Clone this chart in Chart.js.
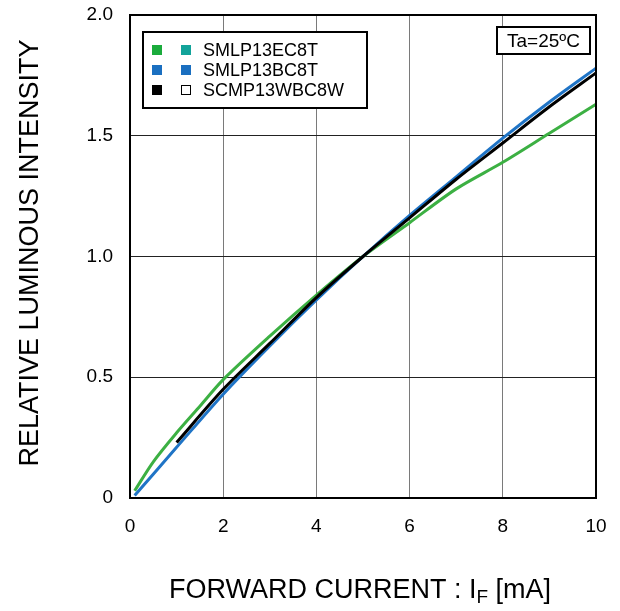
<!DOCTYPE html>
<html>
<head>
<meta charset="utf-8">
<script src="https://cdn.jsdelivr.net/npm/chart.js@4"></script>
<style>
  html, body { margin: 0; padding: 0; background: #fff; }
  #wrap { width: 620px; height: 611px; }
</style>
</head>
<body>
<div id="wrap"><canvas id="chart" width="620" height="611"></canvas></div>
<script>
// ==========================
// DATA
// ==========================
const currentGreen = [0.1, 0.5, 1, 1.5, 2, 3, 4, 5, 6, 7, 8, 9, 10];
const intensityGreen = [0.03, 0.15, 0.27, 0.38, 0.49, 0.67, 0.84, 1.0, 1.14, 1.28, 1.39, 1.51, 1.63];

const currentBlue = [0.1, 1, 2, 3, 4, 5, 6, 7, 8, 9, 10];
const intensityBlue = [0.01, 0.21, 0.43, 0.63, 0.82, 1.0, 1.17, 1.33, 1.49, 1.64, 1.78];

const currentBlack = [1, 2, 3, 4, 5, 6, 7, 8, 9, 10];
const intensityBlack = [0.23, 0.45, 0.64, 0.83, 1.0, 1.16, 1.32, 1.47, 1.62, 1.76];

const xTicks = [0, 2, 4, 6, 8, 10];
const yTicks = [0, 0.5, 1.0, 1.5, 2.0];

const legendRows = [
  { left: "#1aab3c", right: "#12a39a", label: "SMLP13EC8T" },
  { left: "#1a6fc0", right: "#1a6fc0", label: "SMLP13BC8T" },
  { left: "#000000", right: null, label: "SCMP13WBC8W" }
];

const FONT = "'Liberation Sans', Arial, sans-serif";

function toPoints(xs, ys) {
  return xs.map((x, i) => ({ x: x, y: ys[i] }));
}

// ==========================
// EXTRA DRAWING: frame, legend box, Ta box, axis titles
// ==========================
const decorPlugin = {
  id: "decor",
  afterDraw(chart) {
    const ctx = chart.ctx;
    const a = chart.chartArea;
    ctx.save();

    // plot frame
    ctx.strokeStyle = "#000";
    ctx.lineWidth = 2;
    ctx.strokeRect(a.left, a.top, a.right - a.left, a.bottom - a.top);

    // legend box
    ctx.fillStyle = "#fff";
    ctx.fillRect(143, 32, 224, 76);
    ctx.strokeRect(143, 32, 224, 76);
    ctx.font = "18px " + FONT;
    ctx.textBaseline = "middle";
    legendRows.forEach((row, i) => {
      const cy = 50 + i * 20;
      ctx.fillStyle = row.left;
      ctx.fillRect(152, cy - 5, 10, 10);
      if (row.right) {
        ctx.fillStyle = row.right;
        ctx.fillRect(181, cy - 5, 10, 10);
      } else {
        ctx.lineWidth = 1;
        ctx.strokeStyle = "#000";
        ctx.strokeRect(181.5, cy - 4.5, 9, 9);
      }
      ctx.fillStyle = "#000";
      ctx.fillText(row.label, 203, cy + 1);
    });

    // Ta box
    ctx.fillStyle = "#fff";
    ctx.fillRect(497, 27, 93, 27);
    ctx.lineWidth = 2;
    ctx.strokeStyle = "#000";
    ctx.strokeRect(497, 27, 93, 27);
    ctx.fillStyle = "#000";
    ctx.font = "19px " + FONT;
    ctx.textAlign = "center";
    ctx.fillText("Ta=25ºC", 543.5, 41.5);

    // y axis title
    ctx.save();
    ctx.translate(31, 253);
    ctx.rotate(-Math.PI / 2);
    ctx.font = "27px " + FONT;
    ctx.textAlign = "center";
    ctx.fillText("RELATIVE LUMINOUS INTENSITY", 0, 0);
    ctx.restore();

    // x axis title with subscript F
    const mainFont = "27px " + FONT;
    const subFont = "19px " + FONT;
    const p1 = "FORWARD CURRENT : I";
    const p2 = "F";
    const p3 = " [mA]";
    ctx.font = mainFont;
    const w1 = ctx.measureText(p1).width;
    const w3 = ctx.measureText(p3).width;
    ctx.font = subFont;
    const w2 = ctx.measureText(p2).width;
    let x = 360 - (w1 + w2 + w3) / 2;
    const y = 591;
    ctx.textAlign = "left";
    ctx.font = mainFont;
    ctx.fillText(p1, x, y);
    x += w1;
    ctx.font = subFont;
    ctx.fillText(p2, x, y + 7);
    x += w2;
    ctx.font = mainFont;
    ctx.fillText(p3, x, y);

    ctx.restore();
  }
};

function noOverflow(s) {
  s.paddingTop = 0;
  s.paddingBottom = 0;
  s.paddingLeft = 0;
  s.paddingRight = 0;
}

// ==========================
// CHART
// ==========================
new Chart(document.getElementById("chart"), {
  type: "scatter",
  data: {
    datasets: [
      {
        label: "SCMP13WBC8W",
        data: toPoints(currentBlack, intensityBlack),
        borderColor: "#000000",
        order: 0
      },
      {
        label: "SMLP13BC8T",
        data: toPoints(currentBlue, intensityBlue),
        borderColor: "#1f74c6",
        order: 1
      },
      {
        label: "SMLP13EC8T",
        data: toPoints(currentGreen, intensityGreen),
        borderColor: "#3cb043",
        order: 2
      }
    ].map(d => Object.assign(d, {
      showLine: true,
      borderWidth: 3,
      pointRadius: 0,
      tension: 0.3,
      fill: false
    }))
  },
  options: {
    responsive: false,
    animation: false,
    devicePixelRatio: 1,
    layout: { padding: { top: 15, right: 24, left: 0, bottom: 0 } },
    plugins: {
      legend: { display: false },
      tooltip: { enabled: false }
    },
    scales: {
      x: {
        type: "linear",
        min: 0,
        max: 10,
        afterBuildTicks: s => { s.ticks = xTicks.map(v => ({ value: v })); },
        afterFit: s => { s.height = 113; noOverflow(s); },
        grid: { color: "#7a7a7a", lineWidth: 1, drawTicks: false },
        border: { display: false },
        ticks: {
          padding: 17,
          color: "#000",
          font: { family: FONT, size: 19 },
          maxRotation: 0
        }
      },
      y: {
        type: "linear",
        min: 0,
        max: 2,
        afterBuildTicks: s => { s.ticks = yTicks.map(v => ({ value: v })); },
        afterFit: s => { s.width = 130; noOverflow(s); },
        grid: { color: "#222", lineWidth: 1, drawTicks: false },
        border: { display: false },
        ticks: {
          padding: 17,
          color: "#000",
          font: { family: FONT, size: 19 },
          callback: v => (v === 0 ? "0" : v.toFixed(1))
        }
      }
    }
  },
  plugins: [decorPlugin]
});
</script>
</body>
</html>
